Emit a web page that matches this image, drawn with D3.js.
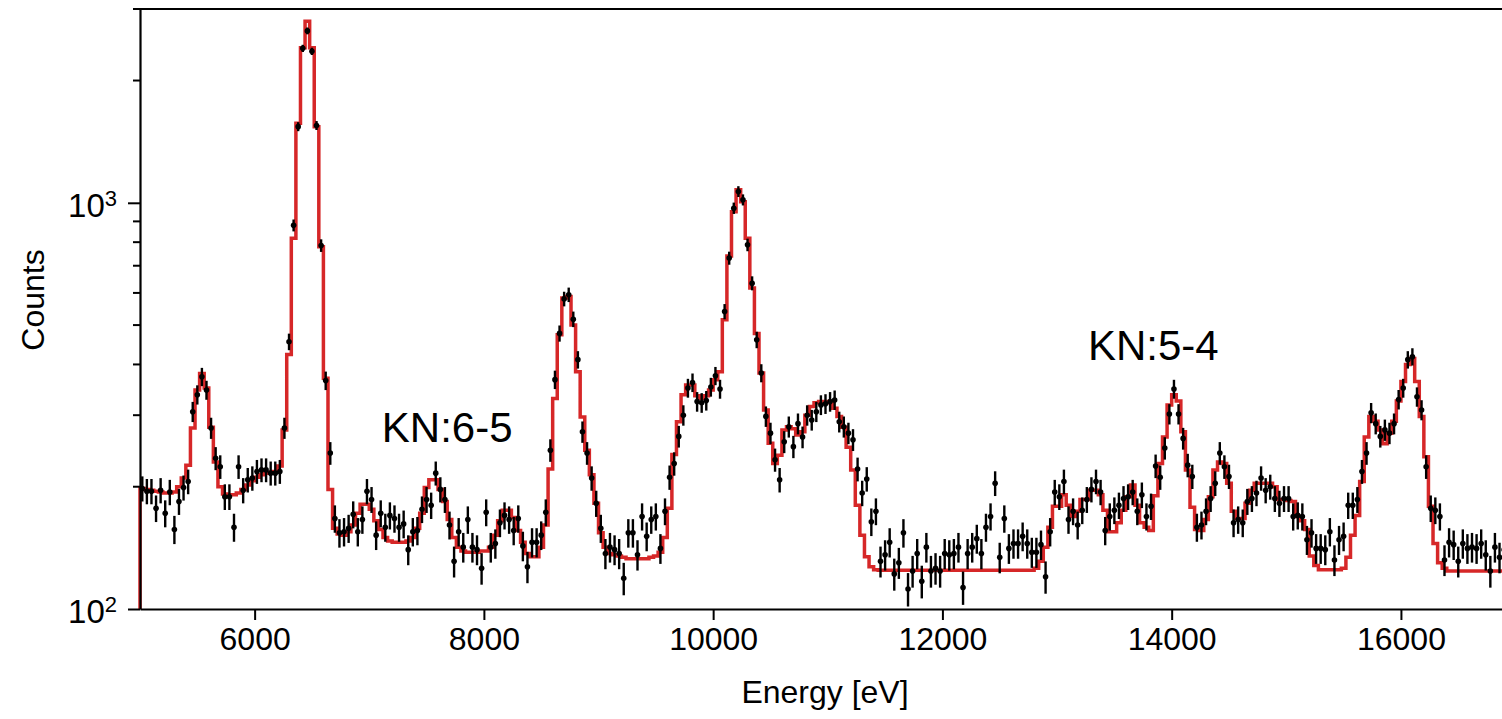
<!DOCTYPE html>
<html>
<head>
<meta charset="utf-8">
<script src="https://cdn.jsdelivr.net/npm/d3@7"></script>
<style>
  body { margin: 0; background: #fff; }
  text { font-family: Helvetica, Arial, "Liberation Sans", sans-serif; fill: #000; }
</style>
</head>
<body>
<div id="chart"></div>
<script>
// 40 eV bins from 5000 eV
var binStart = 5000, binWidth = 40;

var counts = [
  198, 195, 195, 177, 196, 172, 194, 157, 184, 199,
  206, 306, 337, 373, 346, 279, 235, 224, 189, 189,
  159, 224, 196, 208, 210, 218, 220, 220, 216, 216,
  218, 279, 455, 880, 1540, 2400, 2650, 2360, 1550, 785,
  365, 242, 167, 154, 155, 158, 171, 155, 166, 195,
  186, 152, 172, 159, 170, 167, 159, 162, 140, 155,
  156, 176, 186, 180, 216, 197, 186, 161, 131, 155,
  142, 166, 142, 140, 126, 173, 142, 145, 163, 170,
  166, 156, 167, 143, 127, 146, 146, 152, 173, 246,
  367, 477, 580, 594, 517, 411, 273, 242, 210, 182,
  158, 137, 142, 140, 137, 119, 154, 154, 136, 169,
  151, 166, 169, 141, 174, 211, 228, 266, 300, 350,
  361, 324, 322, 326, 352, 375, 348, 540, 731, 970,
  1066, 1017, 788, 634, 460, 381, 298, 271, 233, 208,
  258, 281, 251, 286, 265, 300, 292, 306, 318, 320,
  324, 327, 289, 281, 271, 261, 221, 193, 209, 164,
  174, 131, 136, 146, 122, 130, 154, 112, 124, 137,
  117, 142, 124, 126, 124, 137, 136, 137, 142, 113,
  137, 142, 149, 137, 159, 169, 204, 134, 167, 141,
  145, 145, 151, 145, 138, 138, 144, 120, 155, 194,
  189, 206, 166, 174, 161, 175, 186, 197, 206, 194,
  156, 169, 175, 180, 187, 189, 194, 174, 191, 169,
  179, 225, 211, 249, 302, 348, 302, 263, 226, 212,
  159, 161, 174, 187, 204, 242, 224, 212, 163, 166,
  163, 184, 187, 193, 210, 196, 200, 187, 182, 187,
  187, 169, 170, 169, 148, 154, 141, 141, 140, 155,
  132, 148, 151, 180, 180, 186, 218, 242, 304, 286,
  266, 276, 271, 286, 328, 350, 411, 418, 333, 309,
  224, 177, 175, 169, 132, 146, 144, 131, 145, 141,
  142, 141, 145, 136, 124, 142, 134, 140, 138, 136
];

var model = [
  198, 197, 196, 195, 194, 193, 193, 194, 200, 210,
  226, 279, 346, 380, 350, 280, 230, 200, 192, 191,
  191, 193, 197, 202, 207, 211, 214, 216, 217, 218,
  225, 276, 423, 818, 1570, 2410, 2800, 2410, 1540, 780,
  370, 197, 158, 153, 152, 155, 161, 172, 181, 181,
  176, 165, 157, 150, 147, 146, 146, 146, 147, 150,
  158, 172, 199, 208, 208, 197, 184, 166, 150, 142,
  139, 138, 138, 138, 139, 139, 142, 152, 165, 175,
  175, 168, 156, 146, 137, 134.5, 134.5, 142, 161, 221,
  330, 473, 583, 588, 500, 384, 297, 246, 214, 182,
  154, 142, 137, 136, 135, 134, 133, 133, 133, 133,
  133, 134, 135, 138, 150, 177, 240, 289, 337, 356,
  356, 335, 330, 335, 346, 367, 384, 515, 740, 951,
  1077, 1006, 818, 617, 477, 381, 309, 256, 228, 239,
  276, 281, 278, 268, 273, 300, 315, 322, 324, 324,
  322, 312, 298, 280, 250, 220, 180, 152, 134.5, 127,
  125, 124.5, 124.5, 124.5, 124.5, 124.5, 124.5, 124.5, 124.5, 124.5,
  124.5, 124.5, 124.5, 124.5, 124.5, 124.5, 124.5, 124.5, 124.5, 124.5,
  124.5, 124.5, 124.5, 124.5, 124.5, 124.5, 124.5, 124.5, 124.5, 124.5,
  124.5, 124.5, 124.5, 124.5, 124.5, 126, 131, 142, 159, 179,
  179, 191, 180, 169, 174, 186, 186, 196, 196, 191,
  175, 155, 155, 163, 175, 189, 202, 180, 163, 159,
  156, 190, 228, 265, 318, 337, 325, 273, 220, 178,
  157, 156, 166, 189, 220, 230, 228, 204, 174, 167,
  167, 182, 196, 204, 204, 204, 204, 200, 186, 186,
  185, 184, 169, 165, 157, 135, 128, 125, 125, 125,
  125, 125, 126, 134, 152, 170, 206, 265, 298, 290,
  276, 255, 271, 290, 325, 363, 400, 414, 363, 298,
  237, 179, 145, 130, 126, 124, 124, 124, 124, 124,
  124, 124, 124, 124, 124, 124, 124, 124, 124, 124
];

var xTicks = [6000, 8000, 10000, 12000, 14000, 16000];
var yMajor = [100, 1000];
var yMinor = [200, 300, 400, 500, 600, 700, 800, 900, 2000, 3000];
var annotations = [
  {text: 'KN:6-5', e: 7110, c: 258},
  {text: 'KN:5-4', e: 13270, c: 410}
];

var W = 1502, H = 719;
var margin = {top: 9, left: 140},
  height = 600;

var x = d3.scaleLinear()
  .domain([5000, 17000])
  .range([margin.left, margin.left + 12000 * 0.11463]);

var y = d3.scaleLog()
  .domain([100, 3000])
  .range([margin.top + height, margin.top]);

var svg = d3.select('#chart').append('svg')
  .attr('width', W)
  .attr('height', H);

var bins = counts.map(function(c, i) {
  return {lo: binStart + i * binWidth, mid: binStart + (i + 0.5) * binWidth, c: c, m: model[i]};
});

// model as a step histogram
var stepPts = [[x(binStart), y(100)]];
bins.forEach(function(d) {
  stepPts.push([x(d.lo), y(d.m)]);
  stepPts.push([x(d.lo + binWidth), y(d.m)]);
});
stepPts.push([x(binStart + bins.length * binWidth), y(100)]);

svg.append('path')
  .attr('d', d3.line()(stepPts))
  .attr('fill', 'none')
  .attr('stroke', '#d62728')
  .attr('stroke-width', 3.5)
  .attr('stroke-linejoin', 'miter');

// data points with poisson error bars
var pts = svg.append('g');
pts.selectAll('line')
  .data(bins)
  .enter().append('line')
  .attr('x1', function(d) { return x(d.mid); })
  .attr('x2', function(d) { return x(d.mid); })
  .attr('y1', function(d) { return y(d.c - Math.sqrt(d.c)); })
  .attr('y2', function(d) { return y(d.c + Math.sqrt(d.c)); })
  .attr('stroke', '#000')
  .attr('stroke-width', 2.4);

pts.selectAll('circle')
  .data(bins)
  .enter().append('circle')
  .attr('cx', function(d) { return x(d.mid); })
  .attr('cy', function(d) { return y(d.c); })
  .attr('r', 2.8)
  .attr('fill', '#000');

// axes
var xAxis = svg.append('g')
  .attr('transform', 'translate(0,' + (margin.top + height) + ')')
  .call(d3.axisBottom(x).tickValues(xTicks).tickFormat(d3.format('d'))
    .tickSize(11).tickPadding(7).tickSizeOuter(0));

var yAxis = svg.append('g')
  .attr('transform', 'translate(' + margin.left + ',0)')
  .call(d3.axisLeft(y).tickValues(yMajor).tickSize(12).tickFormat('').tickSizeOuter(0));

yAxis.selectAll('.minor')
  .data(yMinor)
  .enter().append('line')
  .attr('class', 'minor')
  .attr('x1', -7)
  .attr('x2', 0)
  .attr('y1', function(d) { return y(d); })
  .attr('y2', function(d) { return y(d); })
  .attr('stroke', '#000')
  .attr('stroke-width', 2);

svg.selectAll('.domain').attr('stroke-width', 2.2);
svg.selectAll('.tick line').attr('stroke-width', 2);
xAxis.selectAll('.tick text')
  .style('font-size', '32px');

// top spine
svg.append('line')
  .attr('x1', margin.left).attr('x2', x(17000))
  .attr('y1', margin.top).attr('y2', margin.top)
  .attr('stroke', '#000').attr('stroke-width', 2.2);

// y tick labels as 10^n
yMajor.forEach(function(v) {
  var t = svg.append('text')
    .attr('x', 117)
    .attr('y', y(v) + 14)
    .attr('text-anchor', 'end')
    .style('font-size', '33px');
  t.append('tspan').text('10');
  t.append('tspan').attr('dy', -11).style('font-size', '22px').text(Math.round(Math.log10(v)));
});

svg.append('text')
  .attr('x', 825)
  .attr('y', 703)
  .attr('text-anchor', 'middle')
  .style('font-size', '32px')
  .text('Energy [eV]');

svg.append('text')
  .attr('transform', 'translate(44,300) rotate(-90)')
  .attr('text-anchor', 'middle')
  .style('font-size', '32px')
  .text('Counts');

svg.selectAll('.note')
  .data(annotations)
  .enter().append('text')
  .attr('class', 'note')
  .attr('x', function(d) { return x(d.e); })
  .attr('y', function(d) { return y(d.c); })
  .style('font-size', '42px')
  .text(function(d) { return d.text; });
</script>
</body>
</html>
